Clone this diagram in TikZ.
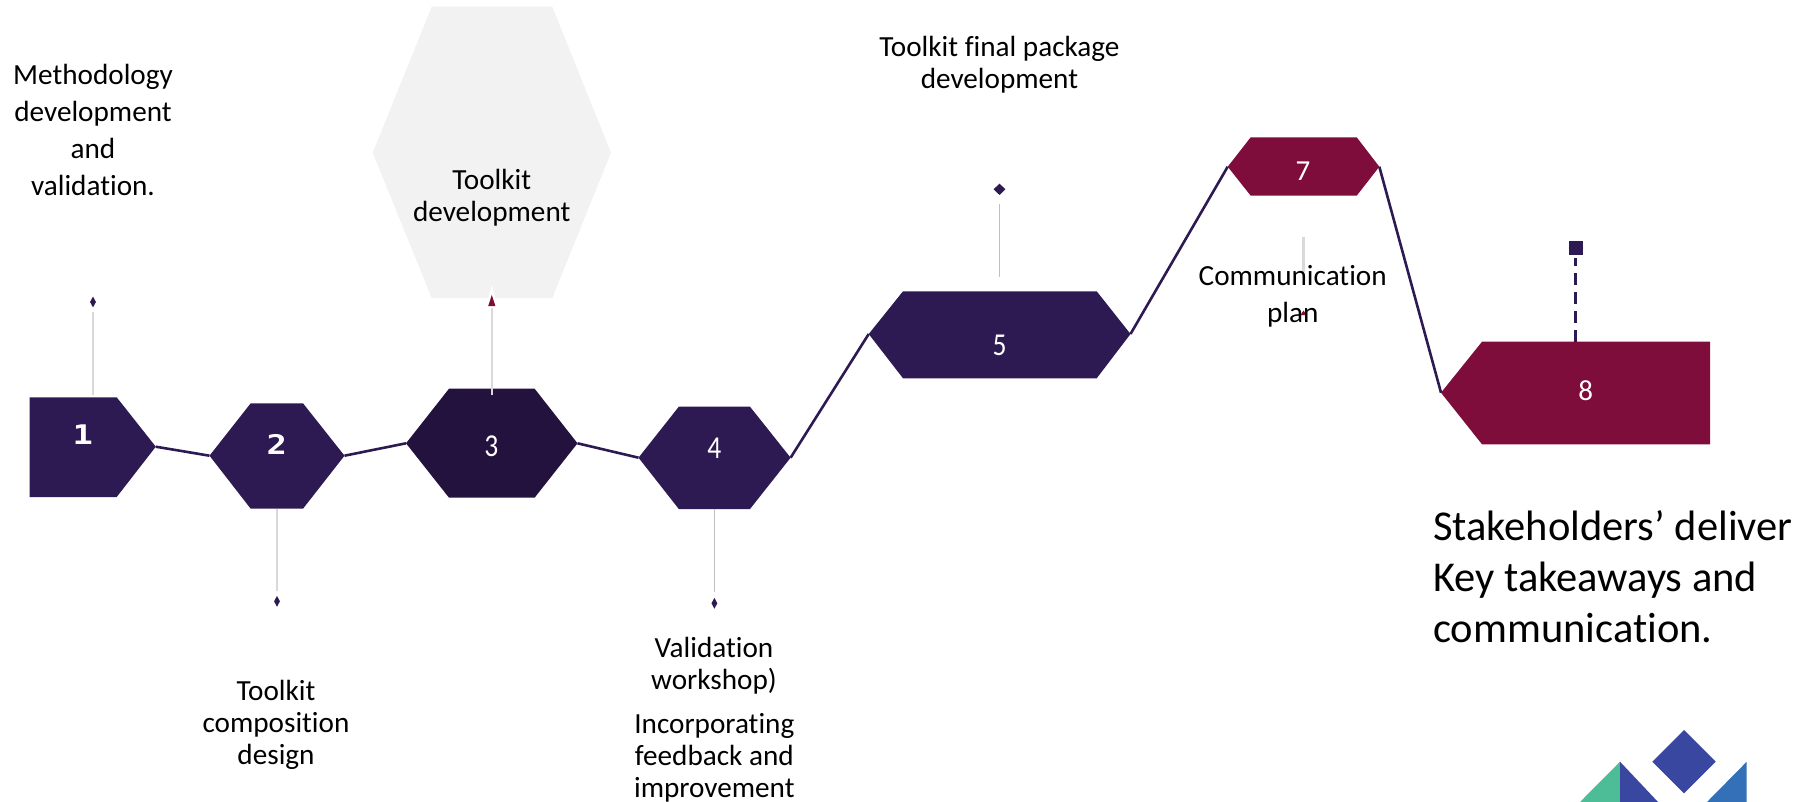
\documentclass[tikz,border=0pt]{standalone}
\usepackage{graphicx}
\usepackage{fontspec}
\setmainfont{Carlito}[Ligatures=NoCommon]
\newfontfamily\monob{DejaVu Sans Mono}[BoldFont={DejaVu Sans Mono Bold}]
\usetikzlibrary{shapes.geometric}
\definecolor{purp}{HTML}{2E1A52}
\definecolor{darkpurp}{HTML}{23123D}
\definecolor{maroon}{HTML}{7F0D3B}
\definecolor{palegrey}{HTML}{F2F2F2}
\definecolor{stemgrey}{HTML}{D9D9D9}
\definecolor{thingrey}{HTML}{BFBFBF}
\definecolor{logogreen}{HTML}{4DBD98}
\definecolor{logoblue}{HTML}{3A47A0}
\definecolor{logosky}{HTML}{3370B7}
\tikzset{
  x=1pt,y=-1pt,
  link/.style={draw=purp,line width=2.6pt},
  stemthick/.style={draw=stemgrey,line width=2.5pt},
  stemthin/.style={draw=thingrey,line width=1pt},
  num/.style={text=white,font=\fontsize{29}{32}\selectfont,inner sep=0pt},
  numbold/.style={text=white,font=\monob\bfseries\fontsize{27}{32}\selectfont,inner sep=0pt},
  lab/.style={align=center,inner sep=0pt,text=black,font=\fontsize{29.2}{32}\selectfont},
  labwide/.style={align=center,inner sep=0pt,text=black,font=\fontsize{29.2}{37}\selectfont},
  tick/.style={shape=diamond,fill=purp,inner sep=0pt,minimum width=6pt,minimum height=11pt},
}
\begin{document}
\begin{tikzpicture}
\useasboundingbox (0,0) rectangle (1795,802);
% connection points
\coordinate (s1r) at (155.8,446.7);
\coordinate (s2l) at (209.5,455.7);
\coordinate (s2r) at (344.5,455.7);
\coordinate (s3l) at (406,443.3);
\coordinate (s3r) at (577.5,443.3);
\coordinate (s4l) at (638.5,457.7);
\coordinate (s4r) at (790.6,457.7);
\coordinate (s5l) at (868.7,334);
\coordinate (s5r) at (1130.5,334);
\coordinate (s7l) at (1227.7,166.7);
\coordinate (s7r) at (1379.3,166.7);
\coordinate (s8l) at (1441,392.7);
% connectors
\draw[link] (s1r) -- (s2l);
\draw[link] (s2r) -- (s3l);
\draw[link] (s3r) -- (s4l);
\draw[link] (s4r) -- (s5l);
\draw[link] (s5r) -- (s7l);
\draw[link] (s7r) -- (s8l);
% pale hexagon
\fill[palegrey] (372.7,152.7) -- (431.7,6.7) -- (552.3,6.7) -- (611,152.7) -- (552.3,298) -- (431.7,298) -- cycle;
% hexagons
\fill[purp] (29.5,397.3) -- (116.7,397.3) -- (s1r) -- (116.7,497) -- (29.5,497) -- cycle;
\fill[purp] (s2l) -- (250.7,403.3) -- (303,403.3) -- (s2r) -- (303,508.7) -- (250.7,508.7) -- cycle;
\fill[darkpurp] (s3l) -- (449,388.7) -- (534.6,388.7) -- (s3r) -- (534.6,497.7) -- (449,497.7) -- cycle;
\fill[purp] (s4l) -- (678.8,406.7) -- (750,406.7) -- (s4r) -- (750,509) -- (678.8,509) -- cycle;
\fill[purp] (s5l) -- (903,291.3) -- (1096.7,291.3) -- (s5r) -- (1096.7,378.3) -- (903,378.3) -- cycle;
\fill[maroon] (s7l) -- (1250.7,137.3) -- (1356.7,137.3) -- (s7r) -- (1356.7,195.7) -- (1250.7,195.7) -- cycle;
\fill[maroon] (s8l) -- (1482,341.7) -- (1710,341.7) -- (1710,444.3) -- (1482,444.3) -- cycle;
% numbers
\node[numbold] (n1) at (82.7,435) {\scalebox{1.25}[1]{1}};
\node[numbold] (n2) at (276.7,444) {\scalebox{1.25}[1]{2}};
\node[num] (n3) at (491.4,446.7) {\scalebox{.95}[1.1]{3}};
\node[num] (n4) at (714.4,448.3) {\scalebox{.95}[1.1]{4}};
\node[num] (n5) at (999.5,345) {\scalebox{.95}[1.1]{5}};
\node[num] (n7) at (1303,170.7) {7};
\node[num] (n8) at (1585.7,391) {8};
% stems and ticks
\node[tick] (d1) at (93,302) {};
\coordinate (a1) at (93,395);
\coordinate (b1) at (93,312);
\draw[stemthick] (a1) -- (b1);
\node[tick] (d2) at (277,601.3) {};
\coordinate (a2) at (277,508.7);
\coordinate (b2) at (277,590.7);
\draw[stemthick] (a2) -- (b2);
\coordinate (a3) at (491.8,394.7);
\coordinate (b3) at (491.8,308.3);
\draw[stemthick] (a3) -- (b3);
\fill[white] (491.8,285) -- (497.5,308) -- (486.1,308) -- cycle;
\fill[maroon] (491.8,295) -- (495.4,306) -- (488.2,306) -- cycle;
\node[tick] (d4) at (714.4,603.3) {};
\coordinate (a4) at (714.4,509);
\coordinate (b4) at (714.4,592.3);
\draw[stemthin] (a4) -- (b4);
\node[tick,minimum width=12pt,minimum height=11.5pt] (d5) at (999.5,189.3) {};
\coordinate (a5) at (999.5,276.7);
\coordinate (b5) at (999.5,204);
\draw[stemthin] (a5) -- (b5);
\coordinate (a7) at (1303.3,236.7);
\coordinate (b7) at (1303.3,272);
\draw[stemthick] (a7) -- (b7);
\fill[maroon] (1303.5,310.5) -- (1306.5,315) -- (1300.5,315) -- cycle;
\node[fill=purp,inner sep=0pt,minimum size=14.4pt] (d8) at (1575.8,248.2) {};
\coordinate (a8) at (1575.7,341.7);
\coordinate (b8) at (1575.7,258);
\draw[draw=purp,line width=2.6pt,dash pattern=on 12pt off 7pt] (a8) -- (b8);
% labels
\node[labwide] (t1) at (93,129.5) {Methodology\\development\\and\\validation.};
\node[lab] (t2) at (276,724.5) {Toolkit\\composition\\design};
\node[lab] (t3) at (491.7,198) {Toolkit\\development};
\node[lab] (t4a) at (714,665.5) {Validation\\workshop)};
\node[lab] (t4b) at (714.3,758) {Incorporating\\feedback and\\improvement};
\node[lab] (t5) at (999.4,65) {Toolkit final package\\development};
\node[labwide] (t7) at (1292.7,296) {Communication\\plan};
\node[align=left,anchor=west,inner sep=0pt,text=black,font=\fontsize{42.5}{51}\selectfont] (t8) at (1433,576.5) {Stakeholders’ deliver\\Key takeaways and\\communication.};
% logo
\begin{scope}
\clip (0,0) rectangle (1795,802);
\fill[logoblue] (1684,730) -- (1715.7,761.7) -- (1684,793.4) -- (1652.3,761.7) -- cycle;
\fill[logogreen] (1620,761.7) -- (1620,802) -- (1580,802) -- cycle;
\fill[logoblue] (1620,761.7) -- (1658,802) -- (1620,802) -- cycle;
\fill[logosky] (1746.7,761.7) -- (1746.7,802) -- (1707,802) -- cycle;
\end{scope}
\end{tikzpicture}
\end{document}
